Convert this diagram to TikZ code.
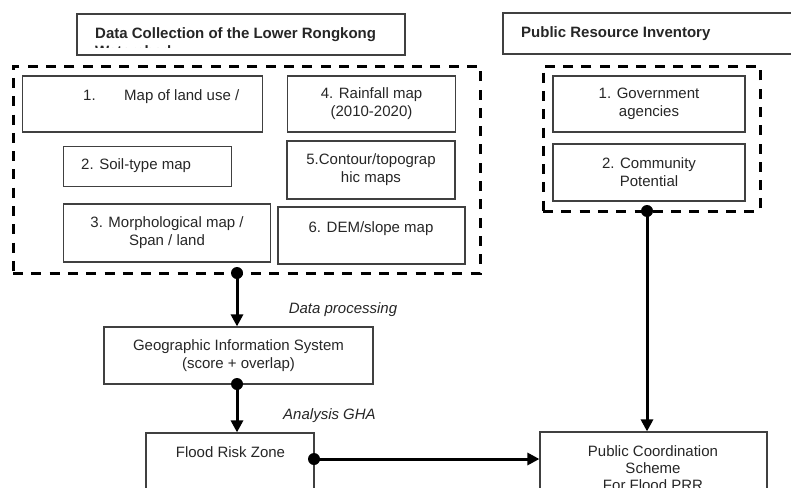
\documentclass[tikz,border=0pt]{standalone}
\usepackage{fontspec}
\setmainfont{Liberation Sans}
\usetikzlibrary{arrows.meta}
\newcommand\dfs{\fontsize{15}{18}\selectfont}
\begin{document}
\begin{tikzpicture}[x=1pt,y=-1pt,
  box/.style={draw=black!75, line width=1.2pt, inner sep=0pt, font=\dfs, align=center, text=black!85},
  txt/.style={inner sep=0pt, font=\dfs, text=black!85},
  grp/.style={draw=black, line width=3pt, dash pattern=on 10pt off 8.3pt, inner sep=0pt},
  conn/.style={draw=black, line width=3pt, -{Triangle[length=12pt,width=12pt]}},
  hconn/.style={draw=black, line width=3pt, -{Triangle[length=12pt,width=12pt]}},
  dot/.style={circle, fill=black, inner sep=0pt, minimum size=12pt},
  lbl/.style={inner sep=0pt, font=\dfs\itshape, text=black!85}]
\useasboundingbox (0,0) rectangle (791,487);
\clip (0,0) rectangle (791,487);

% left header
\node[box, minimum width=328pt, minimum height=41pt] (title) at (241,34.5) {};
\begin{scope}
  \clip (77,14) rectangle (405,48);
  \node[txt, font=\dfs\bfseries, align=left, anchor=north west] (titletxt) at (95,27) {Data Collection of the Lower Rongkong\\Watershed};
\end{scope}

% right header
\node[box, minimum width=317pt, minimum height=41pt] (pri) at (661.5,33.5) {};
\node[txt, font=\dfs\bfseries, anchor=base west] (pritxt) at (521,37.5) {Public Resource Inventory};

% left group
\node[grp, minimum width=467pt, minimum height=207pt] (grp1) at (246.5,169.5) {};
\node[box, minimum width=240pt, minimum height=56pt] (b1) at (142.5,104) {};
\node[txt, anchor=base west] (b1txt) at (83,100) {1.\hspace{28.5pt}Map of land use /};
\node[box, minimum width=168pt, minimum height=56pt] (b4) at (371.5,104) {4. Rainfall map\\(2010-2020)};
\node[box, minimum width=168pt, minimum height=40pt] (b2) at (147.5,166.5) {};
\node[txt, anchor=base west] (b2txt) at (81,169) {2. Soil-type map};
\node[box, minimum width=168pt, minimum height=58pt] (b5) at (371,170) {5.Contour/topograp\\hic maps};
\node[box, minimum width=207pt, minimum height=58pt] (b3) at (167,233) {3. Morphological map /\\Span / land};
\node[box, minimum width=187pt, minimum height=57pt] (b6) at (371.5,235.5) {};
\node[txt, anchor=base] (b6txt) at (371,232.5) {6. DEM/slope map};

% right group
\node[grp, minimum width=217pt, minimum height=145pt] (grp2) at (651.5,138.5) {};
\node[box, minimum width=192pt, minimum height=56pt] (gov) at (649,104) {1. Government\\agencies};
\node[box, minimum width=192pt, minimum height=57pt] (com) at (649,172.5) {2. Community\\Potential};

% GIS
\node[box, minimum width=269pt, minimum height=57pt] (gis) at (238.5,355.5) {Geographic Information System\\(score + overlap)};

% flood risk zone
\node[box, minimum width=168pt, minimum height=80pt] (flood) at (230,473) {};
\node[txt, anchor=base] (floodtxt) at (230.5,457) {Flood Risk Zone};

% public coordination
\node[box, minimum width=227pt, minimum height=90pt] (pc) at (653.5,477) {};
\node[txt, align=center, anchor=north, font=\fontsize{15}{17}\selectfont] (pctxt) at (653,445) {Public Coordination\\Scheme\\For Flood PRR};

% connectors
\node[dot] (d1) at (237,273) {};
\draw[conn] (d1.center) -- (d1.center |- gis.north);
\node[lbl, anchor=base] (l1) at (343,313.5) {Data processing};

\node[dot] (d2) at (237,384) {};
\draw[conn] (d2.center) -- (d2.center |- flood.north);
\node[lbl, anchor=base] (l2) at (329.5,419.5) {Analysis GHA};

\node[dot] (d3) at (314,459) {};
\draw[hconn] (d3.center) -- (d3.center -| pc.west);

\node[dot] (d4) at (647,211) {};
\draw[conn] (d4.center) -- (d4.center |- pc.north);
\end{tikzpicture}
\end{document}
